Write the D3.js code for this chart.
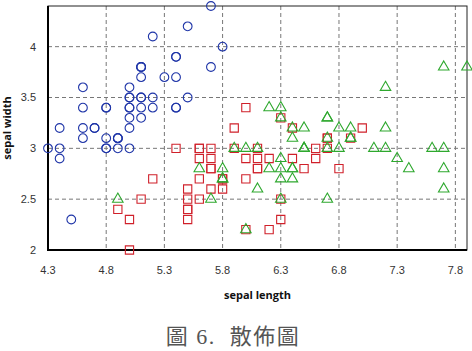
<!DOCTYPE html>
<html lang="zh-Hant">
<head>
<meta charset="UTF-8">
<title>散佈圖</title>
<script src="https://d3js.org/d3.v7.min.js"></script>
<style>
    body { margin: 0; background: #fff; }
    .tick-label { font-family: "Liberation Sans", Arial, sans-serif; font-size: 11px; fill: #333; }
    .axis-title { font-family: "Open Sans", "Liberation Sans", sans-serif; font-size: 11px; font-weight: bold; fill: #111; }
    .caption { font-family: "Liberation Serif", "Noto Sans CJK TC", serif; font-size: 22px; fill: #555; letter-spacing: 1.5px; }
</style>
</head>
<body>
<svg width="472" height="351"></svg>
<script>
// iris data: [sepal length, sepal width]
var setosa = [
    [5.1,3.5],[4.9,3.0],[4.7,3.2],[4.6,3.1],[5.0,3.6],[5.4,3.9],[4.6,3.4],[5.0,3.4],[4.4,2.9],[4.9,3.1],
    [5.4,3.7],[4.8,3.4],[4.8,3.0],[4.3,3.0],[5.8,4.0],[5.7,4.4],[5.4,3.9],[5.1,3.5],[5.7,3.8],[5.1,3.8],
    [5.4,3.4],[5.1,3.7],[4.6,3.6],[5.1,3.3],[4.8,3.4],[5.0,3.0],[5.0,3.4],[5.2,3.5],[5.2,3.4],[4.7,3.2],
    [4.8,3.1],[5.4,3.4],[5.2,4.1],[5.5,4.2],[4.9,3.1],[5.0,3.2],[5.5,3.5],[4.9,3.1],[4.4,3.0],[5.1,3.4],
    [5.0,3.5],[4.5,2.3],[4.4,3.2],[5.0,3.5],[5.1,3.8],[4.8,3.0],[5.1,3.8],[4.6,3.2],[5.3,3.7],[5.0,3.3]
];
var versicolor = [
    [7.0,3.2],[6.4,3.2],[6.9,3.1],[5.5,2.3],[6.5,2.8],[5.7,2.8],[6.3,3.3],[4.9,2.4],[6.6,2.9],[5.2,2.7],
    [5.0,2.0],[5.9,3.0],[6.0,2.2],[6.1,2.9],[5.6,2.9],[6.7,3.1],[5.6,3.0],[5.8,2.7],[6.2,2.2],[5.6,2.5],
    [5.9,3.2],[6.1,2.8],[6.3,2.5],[6.1,2.8],[6.4,2.9],[6.6,3.0],[6.8,2.8],[6.7,3.0],[6.0,2.9],[5.7,2.6],
    [5.5,2.4],[5.5,2.4],[5.8,2.7],[6.0,2.7],[5.4,3.0],[6.0,3.4],[6.7,3.1],[6.3,2.3],[5.6,3.0],[5.5,2.5],
    [5.5,2.6],[6.1,3.0],[5.8,2.6],[5.0,2.3],[5.6,2.7],[5.7,3.0],[5.7,2.9],[6.2,2.9],[5.1,2.5],[5.7,2.8]
];
var virginica = [
    [6.3,3.3],[5.8,2.7],[7.1,3.0],[6.3,2.9],[6.5,3.0],[7.6,3.0],[4.9,2.5],[7.3,2.9],[6.7,2.5],[7.2,3.6],
    [6.5,3.2],[6.4,2.7],[6.8,3.0],[5.7,2.5],[5.8,2.8],[6.4,3.2],[6.5,3.0],[7.7,3.8],[7.7,2.6],[6.0,2.2],
    [6.9,3.2],[5.6,2.8],[7.7,2.8],[6.3,2.7],[6.7,3.3],[7.2,3.2],[6.2,2.8],[6.1,3.0],[6.4,2.8],[7.2,3.0],
    [7.4,2.8],[7.9,3.8],[6.4,2.8],[6.3,2.8],[6.1,2.6],[7.7,3.0],[6.3,3.4],[6.4,3.1],[6.0,3.0],[6.9,3.1],
    [6.7,3.1],[6.9,3.1],[5.8,2.7],[6.8,3.2],[6.7,3.3],[6.7,3.0],[6.3,2.5],[6.5,3.0],[6.2,3.4],[5.9,3.0]
];
var xTicks = [4.3, 4.8, 5.3, 5.8, 6.3, 6.8, 7.3, 7.8];
var yTicks = [2, 2.5, 3, 3.5, 4];
var xTitle = "sepal length", yTitle = "sepal width", caption = "圖 6.  散佈圖";

var margin = { top: 6, right: 5, bottom: 101, left: 48 },
    width = 472 - margin.left - margin.right,
    height = 351 - margin.top - margin.bottom;

var svg = d3.select("svg");
var g = svg.append("g").attr("transform", "translate(" + margin.left + "," + margin.top + ")");

var x = d3.scaleLinear().domain([4.3, 7.9]).range([0, width]);
var y = d3.scaleLinear().domain([2, 4.4]).range([height, 0]);

// grid
g.selectAll(".vgrid").data(xTicks.slice(1)).enter().append("line")
    .attr("x1", function(d) { return x(d); }).attr("x2", function(d) { return x(d); })
    .attr("y1", 0).attr("y2", height)
    .attr("stroke", "#777").attr("stroke-dasharray", "4,3").attr("stroke-width", 1);
g.selectAll(".hgrid").data(yTicks.slice(1)).enter().append("line")
    .attr("y1", function(d) { return y(d); }).attr("y2", function(d) { return y(d); })
    .attr("x1", 0).attr("x2", width)
    .attr("stroke", "#777").attr("stroke-dasharray", "4,3").attr("stroke-width", 1);

// frame
g.append("rect").attr("width", width).attr("height", height)
    .attr("fill", "none").attr("stroke", "#222").attr("stroke-width", 1);
g.append("line").attr("x1", 0).attr("x2", 0).attr("y1", 0).attr("y2", height + 1)
    .attr("stroke", "#000").attr("stroke-width", 2);
g.append("line").attr("x1", -1).attr("x2", width).attr("y1", height).attr("y2", height)
    .attr("stroke", "#000").attr("stroke-width", 2);

// tick labels
g.selectAll(".xl").data(xTicks).enter().append("text")
    .attr("class", "tick-label")
    .attr("x", function(d) { return x(d); }).attr("y", height + 24)
    .attr("text-anchor", "middle")
    .text(function(d) { return d3.format(".1f")(d); });
g.selectAll(".yl").data(yTicks).enter().append("text")
    .attr("class", "tick-label")
    .attr("x", -12).attr("y", function(d) { return y(d); }).attr("dy", "0.35em")
    .attr("text-anchor", "end")
    .text(function(d) { return d; });

// markers
function drawSeries(data, shape, size, color) {
    g.append("g").selectAll("path").data(data).enter().append("path")
        .attr("d", d3.symbol().type(shape).size(size))
        .attr("transform", function(d) { return "translate(" + x(d[0]) + "," + y(d[1]) + ")"; })
        .attr("fill", "none").attr("stroke", color).attr("stroke-width", 1.1);
}
drawSeries(setosa, d3.symbolCircle, 60, "#1f35a8");
drawSeries(versicolor, d3.symbolSquare, 68, "#d0202a");
drawSeries(virginica, d3.symbolTriangle, 48, "#2ea82e");

// axis titles
svg.append("text").attr("class", "axis-title")
    .attr("x", margin.left + width / 2).attr("y", 299)
    .attr("text-anchor", "middle").text(xTitle);
svg.append("text").attr("class", "axis-title")
    .attr("transform", "translate(11," + (margin.top + height / 2) + ") rotate(-90)")
    .attr("text-anchor", "middle").text(yTitle);

svg.append("text").attr("class", "caption")
    .attr("x", 233).attr("y", 344)
    .attr("text-anchor", "middle").attr("xml:space", "preserve")
    .style("white-space", "pre")
    .text(caption);
</script>
</body>
</html>
